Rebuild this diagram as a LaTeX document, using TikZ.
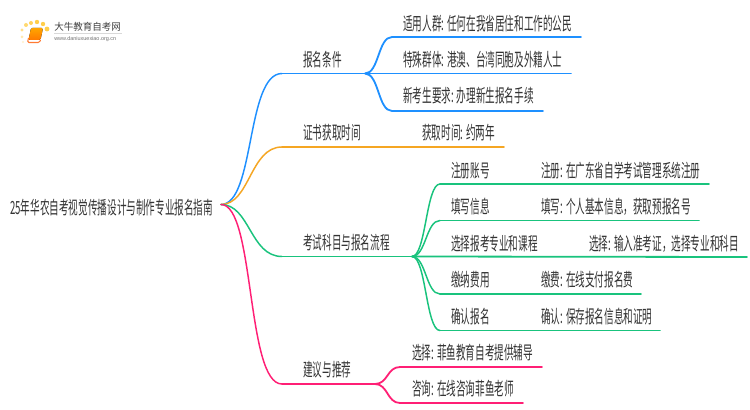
\documentclass[tikz,border=0pt]{standalone}
\usepackage{fontspec}
\setmainfont{Liberation Sans}
\newfontfamily\cjk[FakeStretch=0.53]{Noto Sans CJK SC}
\newfontfamily\cjkb[FakeStretch=0.98]{Noto Sans CJK SC}
\definecolor{bl}{HTML}{1E90FF}
\definecolor{og}{HTML}{F5A623}
\definecolor{gn}{HTML}{19C37D}
\definecolor{pk}{HTML}{FF1F75}
\definecolor{tx}{HTML}{333333}
\tikzset{
  lab/.style={anchor=west,inner sep=0pt,text=tx,font=\cjk\fontsize{13.6pt}{15pt}\selectfont},
  edge/.style={line width=1.35pt,line cap=round},
  thin edge/.style={line width=1.1pt,line cap=round}
}
\begin{document}
\begin{tikzpicture}[x=0.75pt,y=-0.75pt]
\useasboundingbox (0,0) rectangle (750,410);
\fill[white] (0,0) rectangle (750,410);
% logo
\foreach \a/\b/\r/\c in {22/37/1.5/FFE9B0,22/30/1.7/FFE08A,26/25/2/FFD970,31/23/2/FFD25A,37/22/2.2/FFCE4A,43/24/2.2/FFCE4A,47/29/2.4/FFCE4A,23/42/1.2/FFF0CC}{
  \definecolor{dc}{HTML}{\c}\fill[dc] (\a,\b) circle[radius=\r*0.75pt];}
\fill[top color=orange!70!yellow,bottom color=orange!95!red,rounded corners=1pt] (31,28) -- (43,28) -- (40.5,40) -- (28.5,40) -- cycle;
\draw[orange!70!red!80,line width=.8pt,rounded corners=1pt] (28.5,38) -- (27.5,42.5) -- (39.5,42.5) -- (40.5,40);
\node[anchor=west,inner sep=0pt,text=black!75] (brand) at (54,27) {\cjkb\fontsize{7.3pt}{8pt}\selectfont 大牛教育自考网};
\coordinate (ula) at (54,33.5); \coordinate (ulb) at (122,33.5);
\draw[black!15,line width=.5pt] (ula) -- (ulb);
\node[anchor=west,inner sep=0pt,text=black!55] (url) at (54,39) {\fontsize{4.1pt}{5pt}\selectfont www.daniuxuexiao.org.cn};
% root
\node[lab] (root) at (10,208) {25年华农自考视觉传播设计与制作专业报名指南};
\coordinate (o) at (221,204.5);
% coordinates
\foreach \n/\x/\y in {b1/282/73.5,b1e/365/73.5,o1/282/147,o1e/504/147,g1/282/256.5,g1e/412/256.5,p1/282/384,p1e/375/384,
 a1/392/37,a1e/581/37,a2e/571/73.5,a3/392/111,a3e/543/111,
 c1/440/184,c1e/709/184,c2/440/220.5,c2e/699/220.5,c3e/747/257,c4/440/294,c4e/641/294,c5/440/330.5,c5e/660/330.5,
 d1/400/367,d1e/542/367,d2/400/403,d2e/523/403}{\coordinate (\n) at (\x,\y);}
% main branches
\draw[thin edge,bl] (o) .. controls (255,204.5) and (246,73.5) .. (b1);
\draw[edge,bl] (b1) -- (b1e);
\draw[thin edge,og] (o) .. controls (250,204.5) and (250,147) .. (o1);
\draw[edge,og] (o1) -- (o1e);
\draw[thin edge,gn] (o) .. controls (250,204.5) and (250,256.5) .. (g1);
\draw[edge,gn] (g1) -- (g1e);
\draw[thin edge,pk] (o) .. controls (255,204.5) and (246,384) .. (p1);
\draw[edge,pk] (p1) -- (p1e);
% blue sub
\draw[edge,bl] (b1e) .. controls (379,73.5) and (378,37) .. (a1) -- (a1e);
\draw[edge,bl] (b1e) -- (a2e);
\draw[edge,bl] (b1e) .. controls (379,73.5) and (378,111) .. (a3) -- (a3e);
% green sub
\draw[thin edge,gn] (g1e) .. controls (426,256.5) and (426,184) .. (c1);
\draw[edge,gn] (c1) -- (c1e);
\draw[thin edge,gn] (g1e) .. controls (426,256.5) and (426,220.5) .. (c2);
\draw[edge,gn] (c2) -- (c2e);
\draw[edge,gn] (g1e) -- (c3e);
\draw[thin edge,gn] (g1e) .. controls (426,256.5) and (426,294) .. (c4);
\draw[edge,gn] (c4) -- (c4e);
\draw[thin edge,gn] (g1e) .. controls (426,256.5) and (426,330.5) .. (c5);
\draw[edge,gn] (c5) -- (c5e);
% pink sub
\draw[edge,pk] (p1e) .. controls (388,384) and (387,367) .. (d1) -- (d1e);
\draw[edge,pk] (p1e) .. controls (388,384) and (387,403) .. (d2) -- (d2e);
% labels
\node[lab] (n1) at (303,60) {报名条件};
\node[lab] (n2) at (303,133) {证书获取时间};
\node[lab] (n3) at (303,243) {考试科目与报名流程};
\node[lab] (n4) at (303,370) {建议与推荐};
\node[lab] (l1) at (403,24) {适用人群: 任何在我省居住和工作的公民};
\node[lab] (l2) at (403,60) {特殊群体: 港澳、台湾同胞及外籍人士};
\node[lab] (l3) at (403,96) {新考生要求: 办理新生报名手续};
\node[lab] (l4) at (422,133) {获取时间: 约两年};
\node[lab] (s1) at (451,171) {注册账号};
\node[lab] (s2) at (451,207) {填写信息};
\node[lab] (s3) at (451,244) {选择报考专业和课程};
\node[lab] (s4) at (451,280) {缴纳费用};
\node[lab] (s5) at (451,317) {确认报名};
\node[lab] (t1) at (541,171) {注册: 在广东省自学考试管理系统注册};
\node[lab] (t2) at (541,207) {填写: 个人基本信息，获取预报名号};
\node[lab] (t3) at (589,244) {选择: 输入准考证，选择专业和科目};
\node[lab] (t4) at (541,280) {缴费: 在线支付报名费};
\node[lab] (t5) at (541,317) {确认: 保存报名信息和证明};
\node[lab] (u1) at (412,353) {选择: 菲鱼教育自考提供辅导};
\node[lab] (u2) at (412,389) {咨询: 在线咨询菲鱼老师};
\end{tikzpicture}
\end{document}
